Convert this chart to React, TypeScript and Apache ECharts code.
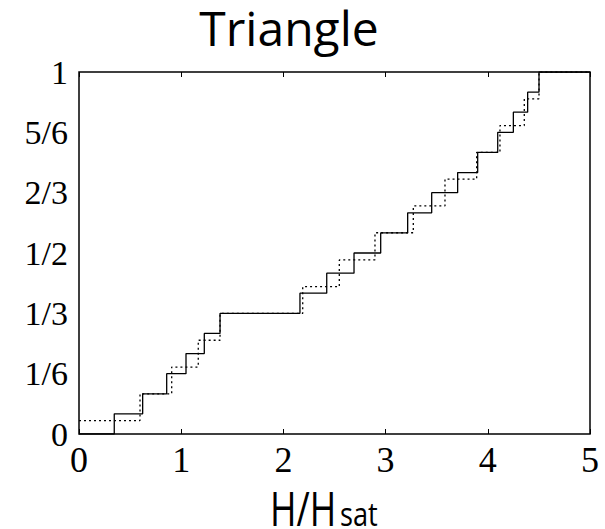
import React, { useEffect, useRef } from "react";
import * as echarts from "echarts";

const X_TICKS = [0, 1, 2, 3, 4, 5];
const Y_TICK_LABELS = ["0", "1/6", "1/3", "1/2", "2/3", "5/6", "1"];

// solid curve: field values where the magnetization jumps, and the levels
const solidJumpH = [0.345, 0.623, 0.858, 1.047, 1.226, 1.38, 2.162, 2.424, 2.691, 2.952, 3.216, 3.451, 3.705, 3.901, 4.097, 4.25, 4.39, 4.501];
const solidLevels = [0, 0.0556, 0.1111, 0.1667, 0.2222, 0.2778, 0.3333, 0.3889, 0.4444, 0.5, 0.5556, 0.6111, 0.6667, 0.7222, 0.7778, 0.8333, 0.8889, 0.9444, 1];

// dotted curve
const dottedJumpH = [0.597, 0.907, 1.167, 1.38, 2.189, 2.547, 2.896, 3.271, 3.581, 3.891, 4.119, 4.357, 4.501];
const dottedLevels = [0.037, 0.111, 0.185, 0.259, 0.333, 0.407, 0.481, 0.556, 0.63, 0.704, 0.778, 0.852, 0.926, 1];

const X_MIN = X_TICKS[0];
const X_MAX = X_TICKS[X_TICKS.length - 1];

function buildSteps(jumps: number[], levels: number[]): number[][] {
  const pts: number[][] = [[X_MIN, levels[0]]];
  jumps.forEach((h, i) => pts.push([h, levels[i + 1]]));
  pts.push([X_MAX, levels[levels.length - 1]]);
  return pts;
}

export default function App() {
  const ref = useRef<HTMLDivElement>(null);
  useEffect(() => {
    if (!ref.current) return;
    const chart = echarts.init(ref.current, undefined, { renderer: "svg" });
    const serif = "'Liberation Serif', 'DejaVu Serif', serif";
    const sans = "'Open Sans', 'Noto Sans', sans-serif";
    chart.setOption({
      animation: false,
      backgroundColor: "#fff",
      grid: {
        left: 79,
        right: 15,
        top: 72,
        bottom: 95,
        show: true,
        borderColor: "#000",
        borderWidth: 1.5,
        backgroundColor: "transparent",
      },
      xAxis: [
        {
          type: "value",
          min: X_MIN,
          max: X_MAX,
          interval: 1,
          position: "bottom",
          axisLine: { show: false },
          axisTick: { show: true, inside: true, length: 5, lineStyle: { color: "#000", width: 1 } },
          splitLine: { show: false },
          axisLabel: {
            color: "#000",
            fontFamily: serif,
            fontSize: 36,
            margin: 8,
          },
        },
        {
          type: "value",
          min: X_MIN,
          max: X_MAX,
          interval: 1,
          position: "top",
          axisLine: { show: false },
          axisTick: { show: true, inside: true, length: 5, lineStyle: { color: "#000", width: 1 } },
          splitLine: { show: false },
          axisLabel: { show: false },
        },
      ],
      yAxis: {
        type: "value",
        min: 0,
        max: 1,
        interval: 1 / 6,
        axisLine: { show: false },
        axisTick: { show: false },
        splitLine: { show: false },
        axisLabel: {
          color: "#000",
          fontFamily: serif,
          fontSize: 34,
          margin: 11,
          formatter: (v: number) => Y_TICK_LABELS[Math.round(v * 6)] ?? "",
        },
      },
      graphic: [
        {
          type: "text",
          x: 289,
          y: 27,
          style: {
            text: "Triangle",
            font: `48px ${sans}`,
            fill: "#000",
            align: "center",
            verticalAlign: "middle",
            lineHeight: 40,
          },
        },
        {
          type: "text",
          x: 270,
          y: 507,
          scaleX: 0.75,
          style: {
            text: "H/H",
            font: `48px ${sans}`,
            fill: "#000",
            align: "left",
            verticalAlign: "middle",
            lineHeight: 36,
          },
        },
        {
          type: "text",
          x: 340,
          y: 514,
          scaleX: 0.85,
          style: {
            text: "sat",
            font: `32px ${sans}`,
            fill: "#000",
            align: "left",
            verticalAlign: "middle",
            lineHeight: 24,
          },
        },
      ],
      series: [
        {
          type: "line",
          xAxisIndex: 0,
          step: "end",
          data: buildSteps(dottedJumpH, dottedLevels),
          showSymbol: false,
          symbol: "none",
          lineStyle: { color: "#000", width: 1.3, type: [2, 3] },
          z: 2,
        },
        {
          type: "line",
          xAxisIndex: 0,
          step: "end",
          data: buildSteps(solidJumpH, solidLevels),
          showSymbol: false,
          symbol: "none",
          lineStyle: { color: "#000", width: 1.3, type: "solid" },
          z: 3,
        },
      ],
    });
    return () => chart.dispose();
  }, []);
  return (
    <div
      ref={ref}
      style={{ position: "absolute", left: 0, top: 0, width: 605, height: 529 }}
    />
  );
}
